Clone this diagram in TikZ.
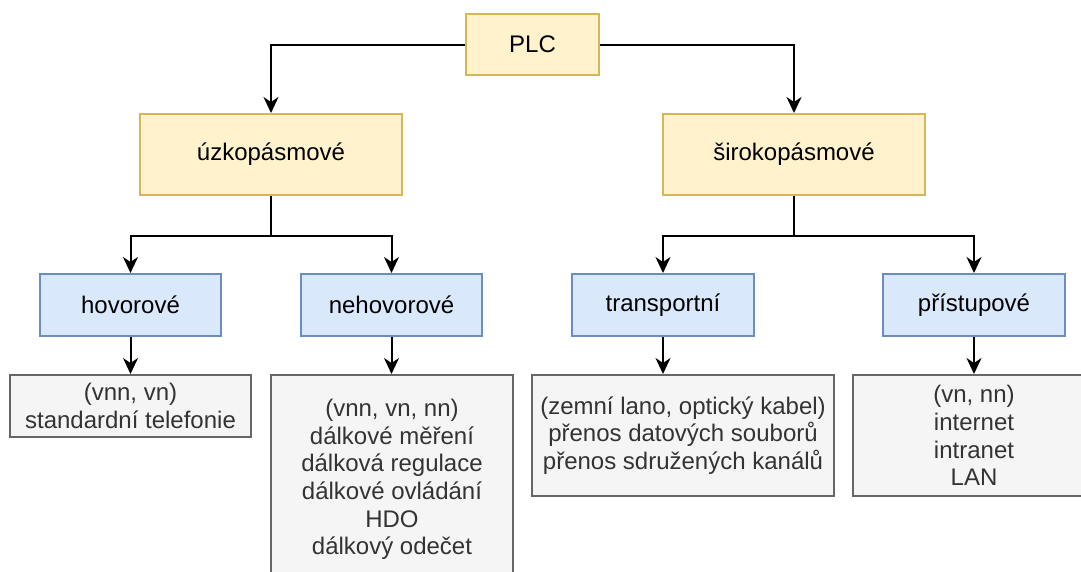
\documentclass[tikz,border=0pt]{standalone}
\usepackage{fontspec}
\setmainfont{Liberation Sans}
\usetikzlibrary{arrows.meta}
\definecolor{yfill}{HTML}{FFF2CC}
\definecolor{ystroke}{HTML}{D6B656}
\definecolor{bfill}{HTML}{DAE8FC}
\definecolor{bstroke}{HTML}{6C8EBF}
\definecolor{gfill}{HTML}{F5F5F5}
\definecolor{gstroke}{HTML}{666666}
\definecolor{gtext}{HTML}{333333}
\begin{document}
\begin{tikzpicture}[x=1pt,y=-1pt,
  box/.style={rectangle, line width=2pt, inner sep=0pt, align=center,
    font=\fontsize{24}{27.6}\selectfont},
  ybox/.style={box, fill=yfill, draw=ystroke, text=black},
  bbox/.style={box, fill=bfill, draw=bstroke, text=black},
  gbox/.style={box, fill=gfill, draw=gstroke, text=gtext},
  arr/.style={draw=black, line width=2pt,
    -{Stealth[length=16pt,width=15pt,inset=5pt]}}]
\useasboundingbox (0,0) rectangle (1081,571);
\clip (0,0) rectangle (1081,571);
\fill[white] (0,0) rectangle (1081,571);
% top levels
\node[ybox, minimum width=133pt, minimum height=61pt] (plc) at (532.5,44.5) {PLC};
\node[ybox, minimum width=262pt, minimum height=81pt] (uzko) at (271,154.5) {úzkopásmové};
\node[ybox, minimum width=262pt, minimum height=81pt] (siroko) at (794,154.5) {širokopásmové};
% second level
\node[bbox, minimum width=181pt, minimum height=62pt] (hov) at (130.5,305) {hovorové};
\node[bbox, minimum width=181pt, minimum height=62pt] (nehov) at (391.5,305) {nehovorové};
\node[bbox, minimum width=182pt, minimum height=62pt] (trans) at (663,305) {transportní};
\node[bbox, minimum width=182pt, minimum height=62pt] (pris) at (974,305) {přístupové};
% details
\node[gbox, minimum width=241pt, minimum height=62pt] (dhov) at (130.5,406)
  {(vnn, vn)\\standardní telefonie};
\node[gbox, minimum width=242pt, minimum height=209pt] (dnehov) at (392,479.5)
  {(vnn, vn, nn)\\dálkové měření\\dálková regulace\\dálkové ovládání\\HDO\\dálkový odečet};
\node[gbox, minimum width=302pt, minimum height=121pt] (dtrans) at (683,435.5)
  {(zemní lano, optický kabel)\\přenos datových souborů\\přenos sdružených kanálů};
\node[gbox, minimum width=242pt, minimum height=121pt] (dpris) at (974,435.5)
  {(vn, nn)\\internet\\intranet\\LAN};
% connectors
\draw[arr] (plc.west) -| (uzko.north);
\draw[arr] (plc.east) -| (siroko.north);
\draw[arr] (uzko.south) -- ++(0,40) -| (hov.north);
\draw[arr] (uzko.south) -- ++(0,40) -| (nehov.north);
\draw[arr] (siroko.south) -- ++(0,40) -| (trans.north);
\draw[arr] (siroko.south) -- ++(0,40) -| (pris.north);
\draw[arr] (hov.south) -- (hov.south |- dhov.north);
\draw[arr] (nehov.south) -- (nehov.south |- dnehov.north);
\draw[arr] (trans.south) -- (trans.south |- dtrans.north);
\draw[arr] (pris.south) -- (pris.south |- dpris.north);
\end{tikzpicture}
\end{document}
